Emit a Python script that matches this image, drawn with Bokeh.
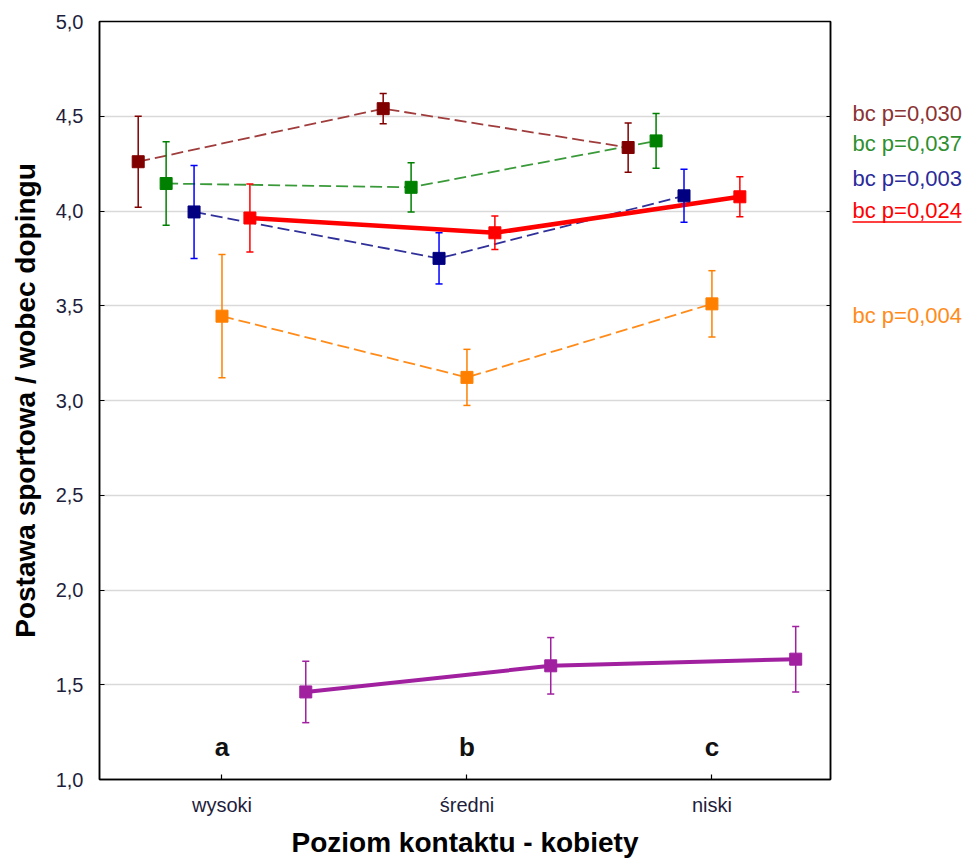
from bokeh.plotting import figure
from bokeh.layouts import row
from bokeh.models import (Range1d, FixedTicker, LinearAxis, ColumnDataSource,
                          CustomJSTickFormatter)
from bokeh.core.properties import value
from bokeh.embed import file_html
from bokeh.resources import INLINE

# ---------------- data ----------------
categories = ["wysoki", "średni", "niski"]
letters = ["a", "b", "c"]
y_ticks = [1.0, 1.5, 2.0, 2.5, 3.0, 3.5, 4.0, 4.5, 5.0]

brown_mean = [4.26, 4.54, 4.335]
brown_err = [0.24, 0.08, 0.13]
green_mean = [4.145, 4.125, 4.37]
green_err = [0.22, 0.13, 0.145]
blue_mean = [3.995, 3.75, 4.08]
blue_err = [0.245, 0.135, 0.14]
orange_mean = [3.445, 3.122, 3.51]
orange_err = [0.325, 0.148, 0.175]
red_mean = [3.963, 3.885, 4.075]
red_err = [0.18, 0.088, 0.106]
purple_mean = [1.462, 1.60, 1.635]
purple_err = [0.162, 0.149, 0.173]

p_labels = ["bc p=0,030", "bc p=0,037", "bc p=0,003", "bc p=0,024", "bc p=0,004"]

FONT = "Liberation Sans"
STEP = 0.114

series = [
    # mean, err, slot, line colour, marker colour, errorbar colour, dash, width
    (brown_mean, brown_err, -3, "#a03c3c", "#800000", "#800000", "12 5", 1.8),
    (green_mean, green_err, -2, "#3a9a3a", "#008000", "#008000", "12 5", 1.8),
    (blue_mean, blue_err, -1, "#30309a", "#000080", "#0000ff", "12 5", 1.8),
    (orange_mean, orange_err, 0, "#ff8c1a", "#ff8000", "#ff8000", "12 5", 1.8),
    (red_mean, red_err, 1, "#ff0000", "#ff0000", "#ff0000", "solid", 4.5),
    (purple_mean, purple_err, 3, "#a020a0", "#a020a0", "#a020a0", "solid", 4.0),
]

label_colors = ["#8b3232", "#2f8f2f", "#2a2a9a", "#ff0000", "#ff8c1a"]
label_y = [4.512, 4.355, 4.171, 4.005, 3.446]

TOP, BOTTOM = 21, 80
HEIGHT = 860

# ---------------- main figure ----------------
p = figure(width=850, height=HEIGHT,
           x_range=Range1d(-0.5, 2.484), y_range=Range1d(1.0, 5.0),
           output_backend="svg", toolbar_location=None,
           min_border_left=99, min_border_right=20,
           min_border_top=TOP, min_border_bottom=BOTTOM)
p.background_fill_color = "white"
p.border_fill_color = "white"
p.outline_line_color = "black"
p.outline_line_width = 1.5

p.xaxis.ticker = FixedTicker(ticks=[0, 1, 2])
p.xaxis.major_label_overrides = {i: c for i, c in enumerate(categories)}
p.xaxis.axis_label = "Poziom kontaktu - kobiety"
p.yaxis.ticker = FixedTicker(ticks=y_ticks)
p.yaxis.formatter = CustomJSTickFormatter(code="return tick.toFixed(1).replace('.', ',');")
p.yaxis.axis_label = "Postawa sportowa / wobec dopingu"

for ax in (p.xaxis[0], p.yaxis[0]):
    ax.axis_line_color = "black"
    ax.axis_line_width = 1.5
    ax.major_tick_in = 5
    ax.major_tick_out = 0
    ax.major_tick_line_color = "black"
    ax.major_tick_line_width = 1.2
    ax.minor_tick_line_color = None
    ax.major_label_text_font = FONT
    ax.major_label_text_font_size = "20px"
    ax.major_label_text_color = "#1e1e3c"
    ax.axis_label_text_font = FONT
    ax.axis_label_text_font_style = "bold"
    ax.axis_label_text_font_size = "28px"
    ax.axis_label_text_color = "black"

p.xaxis.major_label_standoff = 14
p.xaxis.axis_label_standoff = 8
p.yaxis.major_label_standoff = 16
p.yaxis.axis_label_standoff = 12

right_axis = LinearAxis(ticker=FixedTicker(ticks=y_ticks),
                        formatter=CustomJSTickFormatter(code="return '';"),
                        major_tick_in=4, major_tick_out=0,
                        major_tick_line_color="black",
                        minor_tick_line_color=None,
                        axis_line_color="black", axis_line_width=1.5,
                        major_label_standoff=0)
p.add_layout(right_axis, "right")

p.xgrid.visible = False
p.ygrid.ticker = FixedTicker(ticks=y_ticks)
p.ygrid.grid_line_color = "#d9d9d9"
p.ygrid.grid_line_width = 1.5

sources = []
for mean, err, slot, lc, mc, ec, dash, lw in series:
    xs = [i + slot * STEP for i in range(len(categories))]
    sources.append(ColumnDataSource(dict(
        x=xs, y=mean,
        lo=[m - e for m, e in zip(mean, err)],
        hi=[m + e for m, e in zip(mean, err)],
    )))

for src, (mean, err, slot, lc, mc, ec, dash, lw) in zip(sources, series):
    p.line("x", "y", source=src, line_color=lc, line_width=lw, line_dash=dash)

CAP = 0.0145
for src, (mean, err, slot, lc, mc, ec, dash, lw) in zip(sources, series):
    d = src.data
    p.segment(x0="x", y0="lo", x1="x", y1="hi", source=src, line_color=ec, line_width=1.5)
    cap_src = ColumnDataSource(dict(
        x0=[x - CAP for x in d["x"]], x1=[x + CAP for x in d["x"]],
        lo=d["lo"], hi=d["hi"]))
    p.segment(x0="x0", y0="lo", x1="x1", y1="lo", source=cap_src, line_color=ec, line_width=1.5)
    p.segment(x0="x0", y0="hi", x1="x1", y1="hi", source=cap_src, line_color=ec, line_width=1.5)

for src, (mean, err, slot, lc, mc, ec, dash, lw) in zip(sources, series):
    p.scatter("x", "y", source=src, marker="square", size=12,
              fill_color=mc, line_color=mc)

p.text(x=[0, 1, 2], y=[1.172] * 3, text=letters,
       text_font=value(FONT), text_font_style="bold", text_font_size="26px",
       text_align="center", text_baseline="alphabetic", text_color="#111111")

# ---------------- side panel with p-value labels ----------------
QW = 118
q = figure(width=QW, height=HEIGHT,
           x_range=Range1d(0, QW), y_range=p.y_range,
           output_backend="svg", toolbar_location=None,
           x_axis_type=None, y_axis_type=None,
           min_border_left=0, min_border_right=0,
           min_border_top=TOP, min_border_bottom=BOTTOM)
q.outline_line_color = None
q.grid.visible = False
q.background_fill_color = "white"
q.border_fill_color = "white"

lab_src = ColumnDataSource(dict(x=[2] * len(p_labels), y=label_y,
                                text=p_labels, color=label_colors))
q.text(x="x", y="y", text="text", text_color="color", source=lab_src,
       text_font=value(FONT), text_font_size="22px",
       text_align="left", text_baseline="middle")
# underline of the red label
q.segment(x0=[2], y0=[3.942], x1=[111], y1=[3.942], line_color="#ff0000", line_width=1.5)

layout = row(p, q, spacing=0)
open("out.html", "w").write(file_html(layout, INLINE))
